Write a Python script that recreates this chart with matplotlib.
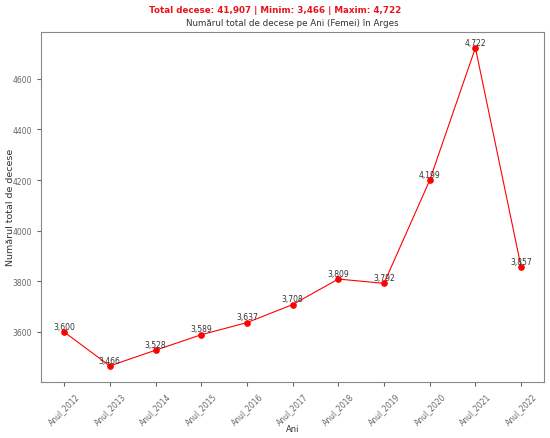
import matplotlib.pyplot as plt

years = ['Anul_2012', 'Anul_2013', 'Anul_2014', 'Anul_2015', 'Anul_2016', 'Anul_2017',
         'Anul_2018', 'Anul_2019', 'Anul_2020', 'Anul_2021', 'Anul_2022']
deaths = [3600, 3466, 3528, 3589, 3637, 3708, 3809, 3792, 4199, 4722, 3857]

fig, ax = plt.subplots(figsize=(5.5, 4.39), dpi=100)
fig.subplots_adjust(left=0.075, right=0.989, top=0.925, bottom=0.128)

x = list(range(len(years)))
ax.plot(x, deaths, color='red', linewidth=0.8, marker='o', markersize=3.8)
for xi, v in zip(x, deaths):
    ax.text(xi, v + 5, f'{v:,}', ha='center', va='bottom', fontsize=5.5, color='#333333')

ax.set_xticks(x)
ax.set_xticklabels(years, rotation=45, fontsize=5.5, color='#333333')
ax.tick_params(axis='y', labelsize=5.5, labelcolor='#333333')
ax.tick_params(colors='#666666', length=3)
for s in ax.spines.values():
    s.set_color('#888888')
ax.set_xlabel('Ani', fontsize=6, color='#333333')
ax.xaxis.set_label_coords(0.5, -0.12)
ax.set_ylabel('Numărul total de decese', fontsize=6.8, color='#333333')
ax.yaxis.set_label_coords(-0.053, 0.5)
ax.set_title('Numărul total de decese pe Ani (Femei) în Arges', fontsize=6.3, color='#333333', pad=5)
fig.suptitle(f'Total decese: {sum(deaths):,} | Minim: {min(deaths):,} | Maxim: {max(deaths):,}',
             fontsize=6.3, fontweight='bold', color='#e8141c', y=0.987)

fig.savefig('out.png', dpi=100)
